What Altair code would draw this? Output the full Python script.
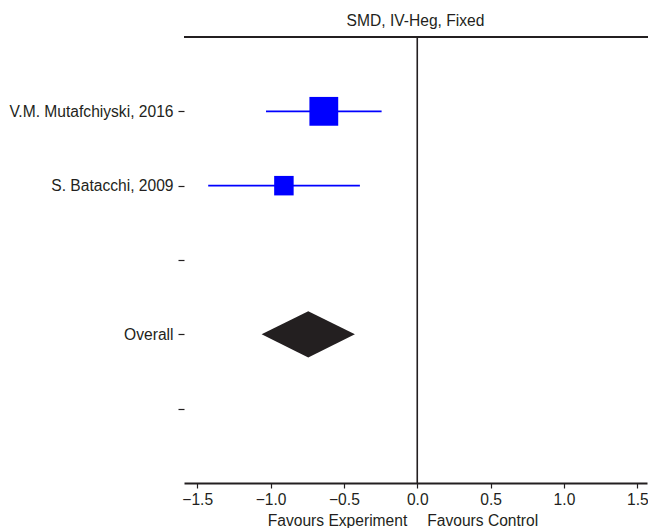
import json

import altair as alt
import pandas as pd

# Study-level standardised mean differences with 95% CIs
study_names = ["V.M. Mutafchiyski, 2016", "S. Batacchi, 2009"]
study_smd = [-0.637, -0.909]
study_lower = [-1.031, -1.425]
study_upper = [-0.243, -0.391]
study_weight = [63.2, 36.8]  # inverse-variance weight, %
study_rows = [1, 2]

# Pooled (fixed-effect) estimate
overall_smd = -0.743
overall_lower = -1.061
overall_upper = -0.425
overall_row = 4

row_labels = ["V.M. Mutafchiyski, 2016", "S. Batacchi, 2009", "", "Overall", ""]
x_ticks = [-1.5, -1.0, -0.5, 0.0, 0.5, 1.0, 1.5]
direction_labels = ["Favours Experiment", "Favours Control"]
direction_align = ["right", "left"]

FONT = "Liberation Sans"
FS = 15.6
INK = "#231F20"
BLUE = "#0000FF"
W, H = 463, 446
DIAMOND_HALF = 0.31  # half height of the pooled diamond, in row units

studies = pd.DataFrame({
    "study": study_names,
    "smd": study_smd,
    "lower": study_lower,
    "upper": study_upper,
    "weight": study_weight,
    "row": study_rows,
})

diamond = pd.DataFrame({
    "x": [overall_lower, overall_smd, overall_upper],
    "y": [overall_row, overall_row - DIAMOND_HALF, overall_row],
    "y2": [overall_row, overall_row + DIAMOND_HALF, overall_row],
})

directions = pd.DataFrame({
    "label": direction_labels,
    "align": direction_align,
    "x": [0.0, 0.0],
})

x_scale = alt.Scale(domain=[-1.59, 1.566], nice=False, zero=False)
y_scale = alt.Scale(domain=[0, 6], reverse=True, nice=False, zero=False)

label_expr = f"{json.dumps(row_labels)}[datum.value - 1]"

x_axis = alt.Axis(
    values=x_ticks, format=".1f", title=None, grid=False,
    domainColor=INK, domainWidth=2, tickColor=INK, tickWidth=1.2, tickSize=5,
    labelFont=FONT, labelFontSize=FS, labelColor=INK, labelPadding=4,
    labelFlush=False,
)
y_axis = alt.Axis(
    values=[1, 2, 3, 4, 5], labelExpr=label_expr, title=None, grid=False,
    domain=False, tickColor=INK, tickWidth=1.2, tickSize=6,
    labelFont=FONT, labelFontSize=FS, labelColor=INK, labelPadding=5,
    labelLimit=0,
)

base = alt.Chart(studies)

ci_lines = base.mark_rule(color=BLUE, strokeWidth=1.6).encode(
    x=alt.X("lower:Q", scale=x_scale, axis=x_axis),
    x2="upper:Q",
    y=alt.Y("row:Q", scale=y_scale, axis=y_axis),
)

squares = base.mark_square(color=BLUE, opacity=1, filled=True).encode(
    x=alt.X("smd:Q", scale=x_scale),
    y=alt.Y("row:Q", scale=y_scale),
    size=alt.Size("weight:Q", scale=alt.Scale(domain=[36.8, 63.2], range=[380, 830]), legend=None),
)

pooled = alt.Chart(diamond).mark_area(color=INK, opacity=1).encode(
    x=alt.X("x:Q", scale=x_scale),
    y=alt.Y("y:Q", scale=y_scale),
    y2="y2:Q",
)

null_line = alt.Chart(directions).mark_rule(color=INK, strokeWidth=1.6).encode(
    x=alt.X("mean(x):Q", scale=x_scale),
    y=alt.value(0),
    y2=alt.value(H),
)

top_line = alt.Chart(directions).mark_rule(color=INK, strokeWidth=2).encode(
    x=alt.value(0), x2=alt.value(W + 2), y=alt.value(0),
)

left_text = alt.Chart(directions).transform_filter(alt.datum.align == "right").mark_text(
    align="right", baseline="middle", dx=-10, font=FONT, fontSize=FS, color=INK,
).encode(
    x=alt.X("x:Q", scale=x_scale), y=alt.value(H + 38), text="label:N",
)
right_text = alt.Chart(directions).transform_filter(alt.datum.align == "left").mark_text(
    align="left", baseline="middle", dx=10, font=FONT, fontSize=FS, color=INK,
).encode(
    x=alt.X("x:Q", scale=x_scale), y=alt.value(H + 38), text="label:N",
)

chart = alt.layer(
    null_line, top_line, ci_lines, squares, pooled, left_text, right_text
).properties(
    width=W,
    height=H,
    title=alt.TitleParams(
        "SMD, IV-Heg, Fixed", font=FONT, fontSize=FS, fontWeight="normal",
        color=INK, anchor="middle", frame="group", offset=6,
    ),
    autosize=alt.AutoSizeParams(type="none"),
    padding={"left": 184, "top": 37, "right": 1, "bottom": 45},
).configure(background="white").configure_view(stroke=None)

chart.save("out.html", embed_options={"renderer": "svg", "actions": False})
